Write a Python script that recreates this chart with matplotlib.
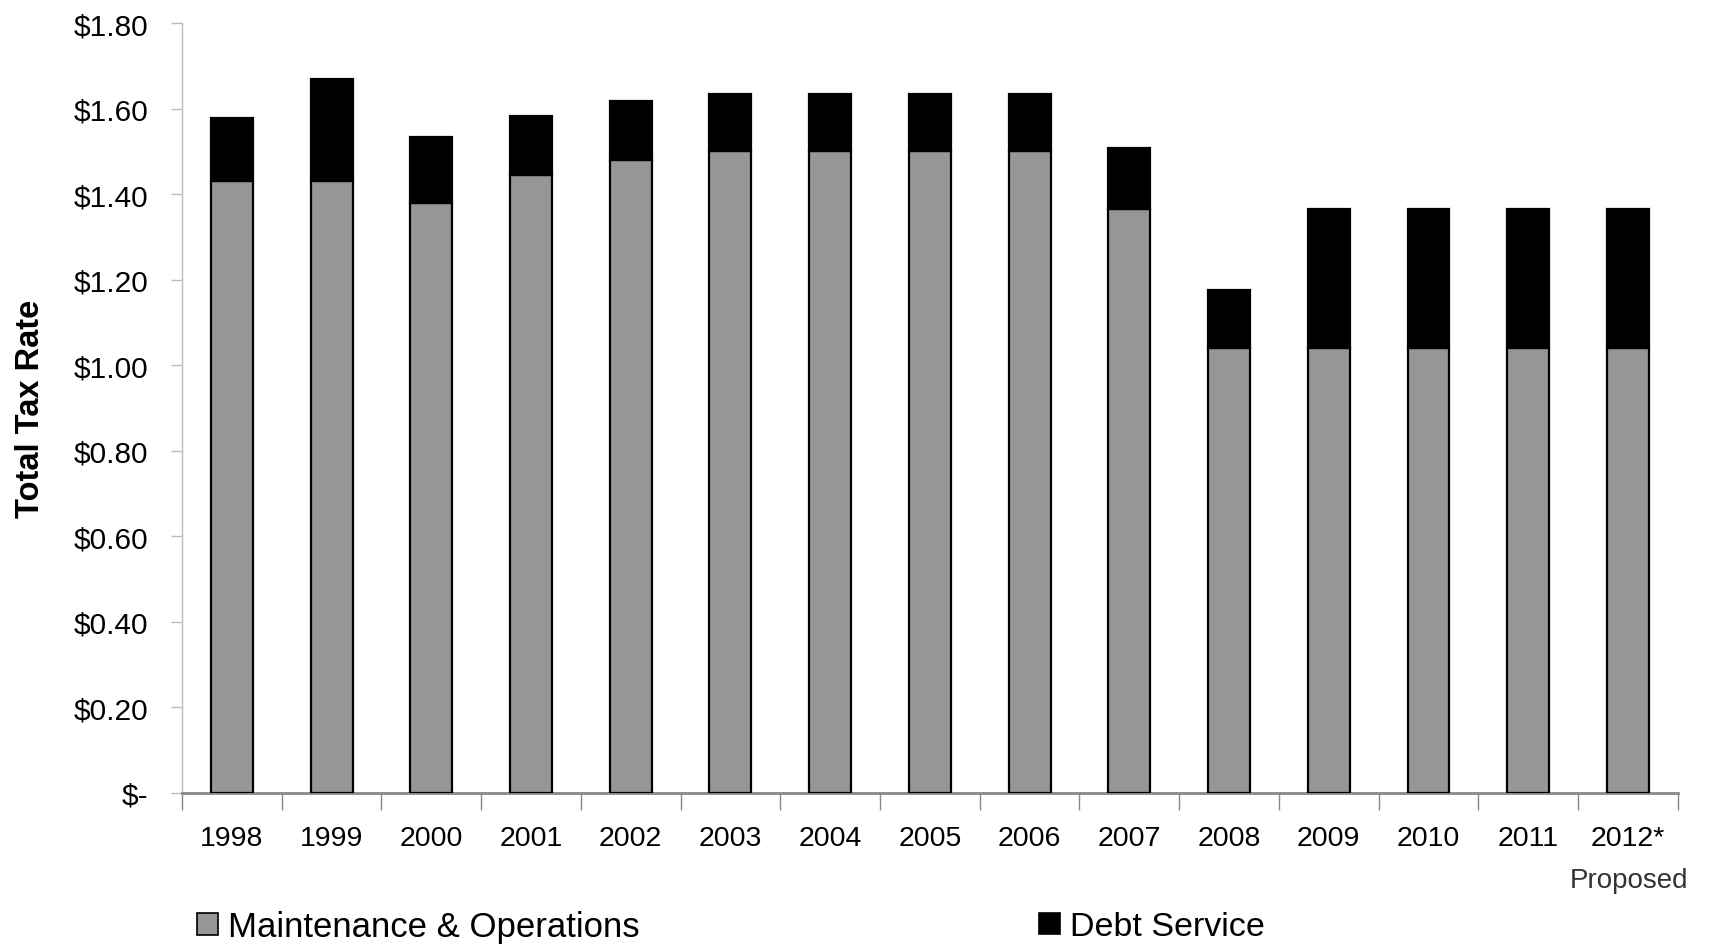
import numpy as np
import matplotlib.pyplot as plt
from matplotlib.patches import Patch

years = ["1998", "1999", "2000", "2001", "2002", "2003", "2004", "2005",
         "2006", "2007", "2008", "2009", "2010", "2011", "2012*"]
maint_ops = [1.43, 1.43, 1.38, 1.445, 1.48, 1.50, 1.50, 1.50, 1.50, 1.365,
             1.04, 1.04, 1.04, 1.04, 1.04]
debt_service = [0.147, 0.24, 0.153, 0.137, 0.137, 0.135, 0.135, 0.135, 0.135,
                0.142, 0.137, 0.326, 0.326, 0.326, 0.326]
yticks = [0.0, 0.2, 0.4, 0.6, 0.8, 1.0, 1.2, 1.4, 1.6, 1.8]
ytick_labels = ["$-", "$0.20", "$0.40", "$0.60", "$0.80", "$1.00",
                "$1.20", "$1.40", "$1.60", "$1.80"]

plt.rcParams['font.family'] = ['Liberation Sans', 'DejaVu Sans']

fig = plt.figure(figsize=(17.12, 9.45), dpi=100)
ax = fig.add_axes([0.1063, 0.1598, 0.8737, 0.8148])

x = np.arange(len(years))
ax.bar(x, maint_ops, width=0.42, color="#969696", edgecolor="black",
       linewidth=1.6, zorder=3)
ax.bar(x, debt_service, width=0.42, bottom=maint_ops, color="black",
       edgecolor="black", linewidth=1.6, zorder=3)

ax.set_xlim(-0.5, len(years) - 0.5)
ax.set_ylim(0, 1.8)

ax.set_yticks(yticks)
ax.set_yticklabels(ytick_labels, fontsize=21.5)
ax.tick_params(axis="y", length=8, width=1, color="#bbbbbb", pad=16)

ax.set_xticks(x)
ax.set_xticklabels(years, fontsize=20.5)
ax.tick_params(axis="x", which="major", length=0, pad=23)
ax.set_xticks(np.arange(-0.5, len(years)), minor=True)
ax.tick_params(axis="x", which="minor", length=12, width=1, color="#888888")

for side in ["top", "right"]:
    ax.spines[side].set_visible(False)
ax.spines["left"].set_color("#bbbbbb")
ax.spines["left"].set_linewidth(1)
ax.spines["bottom"].set_color("#888888")
ax.spines["bottom"].set_linewidth(2)

ax.set_ylabel("Total Tax Rate", fontsize=23.5, fontweight="bold")
ax.yaxis.set_label_coords(-0.091, 0.5)

fig.text(0.986, 0.068, "Proposed", ha="right", va="center", fontsize=20,
         color="#333333")

h1 = Patch(facecolor="#969696", edgecolor="black", linewidth=1.2)
h2 = Patch(facecolor="black", edgecolor="black", linewidth=1.2)
leg1 = fig.legend([h1], ["Maintenance & Operations"], loc="center left",
                  bbox_to_anchor=(0.107, 0.018), frameon=False, fontsize=25,
                  handlelength=0.6, handleheight=0.6, handletextpad=0.3,
                  borderaxespad=0)
leg2 = fig.legend([h2], ["Debt Service"], loc="center left",
                  bbox_to_anchor=(0.599, 0.018), frameon=False, fontsize=24.5,
                  handlelength=0.6, handleheight=0.6, handletextpad=0.3,
                  borderaxespad=0)

fig.savefig("out.png", dpi=100)
